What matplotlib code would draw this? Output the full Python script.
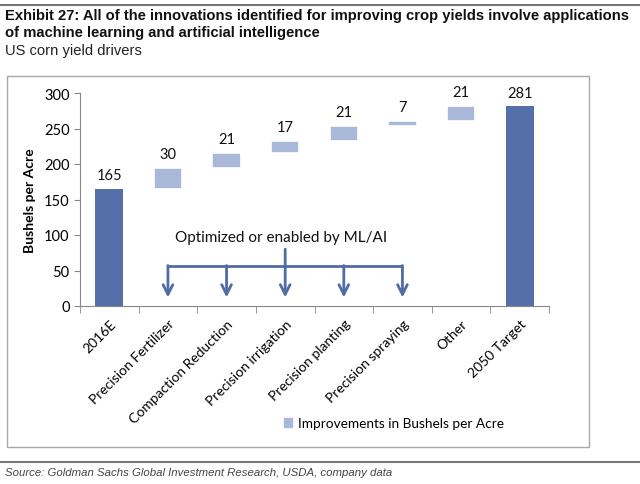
import matplotlib

matplotlib.use("Agg")

import matplotlib.pyplot as plt
from matplotlib import font_manager
from matplotlib.patches import Patch, Rectangle
from matplotlib.lines import Line2D


categories = [
    "2016E",
    "Precision Fertilizer",
    "Compaction Reduction",
    "Precision irrigation",
    "Precision planting",
    "Precision spraying",
    "Other",
    "2050 Target",
]
start_value = 165
increments = [30, 21, 17, 21, 7, 21]
target_value = 281
ml_driven = [1, 2, 3, 4, 5]  # category indices optimized by ML/AI

DARK = "#5570A8"
LIGHT = "#A9B8D8"
ARROW = "#4F6CA3"

names = {f.name for f in font_manager.fontManager.ttflist}
head_font = "Liberation Sans Narrow" if "Liberation Sans Narrow" in names else "Liberation Sans"
head_size = 11 if head_font == "Liberation Sans Narrow" else 10.6
chart_font = "Lato"

fig = plt.figure(figsize=(6.4, 4.85), dpi=100)
ax = fig.add_axes([80 / 640, 1 - 307 / 485, 469 / 640, 213 / 485])

x = list(range(len(categories)))
bottoms = []
running = start_value
for inc in increments:
    bottoms.append(running)
    running += inc

ax.bar(x[0], start_value, width=0.48, color=DARK)
ax.bar(x[-1], target_value, width=0.48, color=DARK)
ax.bar(x[1:-1], increments, bottom=bottoms, width=0.48, color=LIGHT,
       edgecolor="white", linewidth=1.2)

label_kw = dict(ha="center", va="bottom", fontsize=10.5, family=chart_font, color="#111111",
                textcoords="offset points", xytext=(0, 5))
ax.annotate(str(start_value), (x[0], start_value), **label_kw)
for xi, b, inc in zip(x[1:-1], bottoms, increments):
    ax.annotate(str(inc), (xi, b + inc), **label_kw)
ax.annotate(str(target_value), (x[-1], target_value), **label_kw)

# ML/AI bracket with arrows
line_y, tip_y, stem_top = 57, 12, 80
ax.plot([ml_driven[0], ml_driven[-1]], [line_y, line_y], color=ARROW, lw=2, solid_capstyle="butt")
mid = ml_driven[len(ml_driven) // 2]
for xi in ml_driven:
    top = stem_top if xi == mid else line_y
    ax.annotate("", xy=(xi, tip_y), xytext=(xi, top),
                arrowprops=dict(arrowstyle="->,head_length=0.7,head_width=0.35",
                                color=ARROW, lw=2, shrinkA=0, shrinkB=0))
ax.text(mid - 0.07, 97, "Optimized or enabled by ML/AI", ha="center", va="center",
        fontsize=11, family=chart_font, color="#111111")

ax.set_xlim(-0.5, len(categories) - 0.5)
ax.set_ylim(0, 300)
ax.set_yticks(range(0, 301, 50))
ax.set_xticks(x)
ax.set_xticklabels(categories, rotation=45, ha="right", rotation_mode="anchor",
                   family=chart_font, fontsize=10)
ax.set_xticks([i - 0.5 for i in range(len(categories) + 1)], minor=True)
ax.tick_params(axis="x", which="major", length=0, pad=8)
ax.tick_params(axis="x", which="minor", length=5, color="#888888", direction="out")
ax.tick_params(axis="y", length=4, color="#888888", labelsize=10.5)
for lab in ax.get_yticklabels():
    lab.set_family(chart_font)
for side in ("top", "right"):
    ax.spines[side].set_visible(False)
for side in ("left", "bottom"):
    ax.spines[side].set_color("#888888")
ax.set_ylabel("Bushels per Acre", family=chart_font, fontweight="bold", fontsize=10, labelpad=6)

ax.legend(handles=[Patch(color=LIGHT, label="Improvements in Bushels per Acre")],
          loc="center left", bbox_to_anchor=(272 / 640, 1 - 424 / 485),
          bbox_transform=fig.transFigure, frameon=False, handlelength=0.6, handleheight=0.6,
          handletextpad=0.4, prop={"family": chart_font, "size": 9.8})

# page decorations
fig.add_artist(Line2D([0, 1], [1 - 6 / 485, 1 - 6 / 485], color="#777777", lw=1.5))
fig.add_artist(Rectangle((7 / 640, 1 - 448 / 485), 582 / 640, 371 / 485, fill=False,
                         edgecolor="#A8A8A8", lw=1))
fig.add_artist(Line2D([0, 1], [1 - 463 / 485, 1 - 463 / 485], color="#777777", lw=1.5))

fig.text(5 / 640, 1 - 16 / 485,
         "Exhibit 27: All of the innovations identified for improving crop yields involve applications",
         family=head_font, fontweight="bold", fontsize=head_size, va="center", color="#111111")
fig.text(5 / 640, 1 - 33 / 485, "of machine learning and artificial intelligence",
         family=head_font, fontweight="bold", fontsize=head_size, va="center", color="#111111")
fig.text(5 / 640, 1 - 51 / 485, "US corn yield drivers",
         family=head_font, fontsize=head_size, va="center", color="#222222")
fig.text(5 / 640, 1 - 473 / 485, "Source: Goldman Sachs Global Investment Research, USDA, company data",
         family=head_font, style="italic", fontsize=head_size * 0.77, va="center", color="#444444")

fig.savefig("out.png", dpi=100)
